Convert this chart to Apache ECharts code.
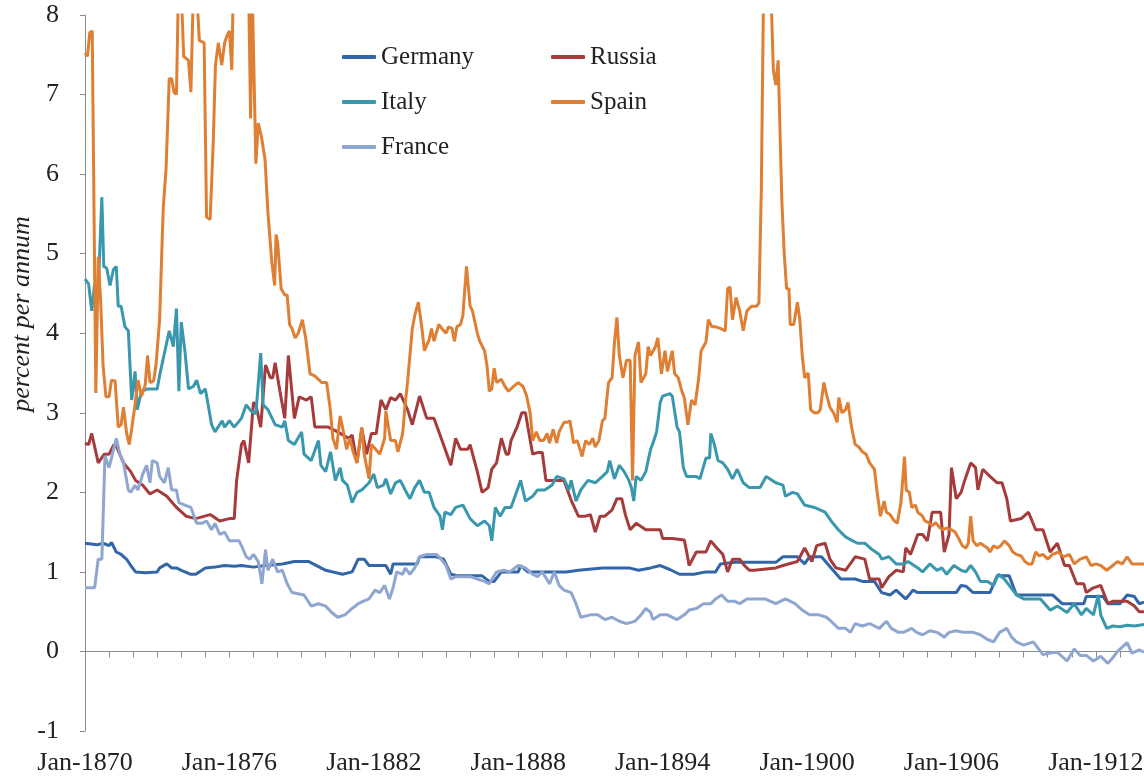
<!DOCTYPE html>
<html>
<head>
<meta charset="utf-8">
<script src="https://cdn.jsdelivr.net/npm/echarts@6/dist/echarts.min.js"></script>
<style>
  html, body { margin: 0; padding: 0; background: #fff; }
  #chart { width: 1144px; height: 778px; }
</style>
</head>
<body>
<div id="chart"></div>
<script>
// yields, percent per annum, [year, value]
const germany = [[1870,1.36],[1870.25,1.35],[1870.5,1.34],[1870.75,1.36],[1871,1.33],[1871.1,1.37],[1871.3,1.25],[1871.5,1.22],[1871.75,1.15],[1871.9,1.08],[1872.1,1.0],[1872.5,0.99],[1873,1.0],[1873.1,1.05],[1873.4,1.1],[1873.6,1.05],[1873.8,1.05],[1874,1.02],[1874.4,0.97],[1874.6,0.97],[1875,1.05],[1875.4,1.06],[1875.8,1.08],[1876.2,1.07],[1876.5,1.08],[1877,1.06],[1877.5,1.08],[1878.2,1.1],[1878.7,1.13],[1879.3,1.13],[1880,1.02],[1880.7,0.97],[1881.1,1.0],[1881.35,1.16],[1881.6,1.16],[1881.8,1.08],[1882.5,1.08],[1882.7,0.97],[1882.8,1.1],[1883.8,1.1],[1883.9,1.19],[1884.6,1.19],[1884.9,1.16],[1885.2,0.97],[1885.5,0.95],[1886.5,0.95],[1886.8,0.88],[1887,0.88],[1887.3,1.0],[1888,1.0],[1888.1,1.08],[1888.4,1.0],[1890,1.0],[1890.5,1.02],[1891.5,1.05],[1892.6,1.05],[1893,1.02],[1893.5,1.05],[1893.9,1.08],[1894.3,1.03],[1894.7,0.97],[1895.3,0.97],[1895.8,1.0],[1896.2,1.0],[1896.4,1.1],[1897,1.12],[1898,1.12],[1898.7,1.12],[1899,1.19],[1899.6,1.19],[1899.9,1.1],[1900.1,1.19],[1900.6,1.19],[1901,1.05],[1901.4,0.91],[1902,0.91],[1902.3,0.88],[1902.8,0.88],[1903.1,0.74],[1903.45,0.71],[1903.7,0.77],[1904.1,0.66],[1904.4,0.77],[1904.6,0.74],[1905.5,0.74],[1906.2,0.74],[1906.4,0.83],[1906.6,0.82],[1906.9,0.74],[1907.6,0.74],[1907.9,0.95],[1908.4,0.95],[1908.7,0.71],[1910.2,0.71],[1910.6,0.6],[1911.5,0.6],[1911.6,0.69],[1912.3,0.69],[1912.5,0.6],[1913,0.6],[1913.3,0.71],[1913.6,0.69],[1913.8,0.6],[1914,0.62]];

const russia = [[1870,2.62],[1870.15,2.6],[1870.28,2.74],[1870.55,2.37],[1870.8,2.48],[1871,2.48],[1871.2,2.6],[1871.3,2.58],[1871.6,2.37],[1871.9,2.26],[1872.1,2.15],[1872.4,2.09],[1872.7,1.98],[1873,2.03],[1873.4,1.95],[1873.8,1.81],[1874.2,1.7],[1874.6,1.67],[1875.2,1.72],[1875.6,1.64],[1876,1.67],[1876.2,1.67],[1876.3,2.15],[1876.5,2.6],[1876.6,2.65],[1876.8,2.37],[1877,3.13],[1877.1,3.1],[1877.3,2.82],[1877.5,3.6],[1877.7,3.44],[1877.8,3.44],[1877.9,3.63],[1878.1,3.27],[1878.3,2.93],[1878.45,3.72],[1878.7,2.93],[1878.9,3.2],[1879.2,3.16],[1879.4,3.2],[1879.55,2.82],[1879.9,2.82],[1880.1,2.82],[1880.5,2.76],[1880.95,2.68],[1881.1,2.72],[1881.3,2.37],[1881.5,2.8],[1881.7,2.48],[1881.9,2.74],[1882.1,2.74],[1882.3,3.16],[1882.5,3.04],[1882.7,3.19],[1882.9,3.16],[1883.1,3.24],[1883.4,3.04],[1883.6,2.85],[1883.9,3.21],[1884.2,2.93],[1884.5,2.93],[1884.8,2.68],[1885.2,2.34],[1885.4,2.68],[1885.6,2.54],[1885.9,2.54],[1886,2.6],[1886.3,2.26],[1886.5,2.0],[1886.75,2.06],[1886.9,2.29],[1887.1,2.37],[1887.3,2.68],[1887.5,2.48],[1887.6,2.48],[1887.7,2.65],[1887.95,2.82],[1888.15,3.0],[1888.3,3.0],[1888.4,2.82],[1888.6,2.48],[1888.8,2.5],[1889,2.5],[1889.15,2.15],[1889.9,2.15],[1890.2,1.9],[1890.5,1.7],[1890.8,1.7],[1891,1.72],[1891.2,1.5],[1891.4,1.7],[1891.6,1.7],[1891.9,1.78],[1892.1,1.92],[1892.3,1.92],[1892.45,1.72],[1892.65,1.53],[1892.9,1.61],[1893.3,1.53],[1893.9,1.53],[1894,1.42],[1894.4,1.42],[1894.9,1.4],[1895,1.25],[1895.1,1.08],[1895.4,1.25],[1895.8,1.25],[1896,1.39],[1896.25,1.3],[1896.5,1.22],[1896.7,1.0],[1896.9,1.16],[1897.2,1.16],[1897.4,1.08],[1897.6,1.02],[1897.8,1.02],[1898.7,1.05],[1899,1.08],[1899.6,1.13],[1899.9,1.3],[1900.2,1.13],[1900.4,1.33],[1900.75,1.36],[1900.95,1.16],[1901.2,1.05],[1901.6,1.02],[1902,1.19],[1902.4,1.16],[1902.6,0.91],[1903,0.91],[1903.1,0.8],[1903.4,0.94],[1903.7,1.02],[1904,1.0],[1904.1,1.3],[1904.3,1.22],[1904.6,1.47],[1904.8,1.47],[1905,1.39],[1905.2,1.75],[1905.55,1.75],[1905.7,1.25],[1905.9,1.47],[1906,2.31],[1906.2,1.92],[1906.4,2.0],[1906.55,2.15],[1906.8,2.37],[1907,2.31],[1907.1,2.03],[1907.3,2.29],[1907.6,2.2],[1907.9,2.12],[1908.1,2.12],[1908.3,1.92],[1908.45,1.64],[1908.9,1.67],[1909.2,1.75],[1909.5,1.53],[1909.8,1.53],[1910.1,1.25],[1910.4,1.36],[1910.7,1.08],[1910.9,1.08],[1911.2,0.85],[1911.5,0.85],[1911.6,0.74],[1911.9,0.8],[1912.2,0.83],[1912.5,0.6],[1912.7,0.63],[1913.3,0.63],[1913.6,0.57],[1913.8,0.5],[1914,0.5]];

const italy = [[1870,4.68],[1870.15,4.62],[1870.28,4.28],[1870.4,4.62],[1870.55,4.55],[1870.7,5.71],[1870.78,4.84],[1870.9,4.82],[1871.04,4.6],[1871.18,4.8],[1871.3,4.84],[1871.38,4.34],[1871.5,4.34],[1871.66,4.08],[1871.8,4.03],[1871.94,3.16],[1872.08,3.52],[1872.17,3.04],[1872.35,3.27],[1872.6,3.3],[1873,3.3],[1873.1,3.47],[1873.3,3.75],[1873.5,4.03],[1873.67,3.83],[1873.8,4.31],[1873.9,3.27],[1874,4.14],[1874.15,3.78],[1874.3,3.3],[1874.5,3.33],[1874.64,3.41],[1874.8,3.24],[1875,3.3],[1875.1,3.13],[1875.26,2.85],[1875.4,2.76],[1875.7,2.9],[1875.8,2.82],[1876,2.9],[1876.2,2.82],[1876.5,2.93],[1876.7,3.1],[1876.9,3.02],[1877.1,2.99],[1877.3,3.75],[1877.4,3.1],[1877.6,3.04],[1877.9,2.85],[1878.2,2.82],[1878.3,2.9],[1878.45,2.65],[1878.7,2.6],[1879,2.76],[1879.1,2.48],[1879.4,2.4],[1879.7,2.65],[1879.8,2.34],[1880,2.26],[1880.2,2.51],[1880.4,2.15],[1880.6,2.31],[1880.7,2.15],[1880.9,2.09],[1881.1,1.87],[1881.3,2.0],[1881.5,2.03],[1881.8,2.12],[1882,2.23],[1882.15,2.06],[1882.4,2.09],[1882.5,2.17],[1882.7,1.98],[1882.9,2.12],[1883.1,2.15],[1883.3,2.03],[1883.5,1.92],[1883.7,2.06],[1883.9,2.15],[1884.1,2.0],[1884.3,2.0],[1884.5,1.81],[1884.75,1.7],[1884.85,1.53],[1884.95,1.75],[1885.2,1.72],[1885.4,1.81],[1885.7,1.84],[1886,1.67],[1886.3,1.58],[1886.6,1.64],[1886.8,1.58],[1886.9,1.39],[1887.05,1.81],[1887.25,1.7],[1887.45,1.81],[1887.7,1.81],[1887.9,1.98],[1888.1,2.15],[1888.3,1.89],[1888.6,1.95],[1888.8,2.03],[1889.1,2.03],[1889.4,2.09],[1889.6,2.2],[1889.9,2.17],[1890.1,2.03],[1890.2,2.15],[1890.4,1.89],[1890.6,2.03],[1890.9,2.15],[1891.2,2.12],[1891.5,2.2],[1891.7,2.26],[1891.8,2.4],[1892,2.17],[1892.2,2.34],[1892.4,2.26],[1892.6,2.15],[1892.7,2.06],[1892.8,1.89],[1892.9,2.2],[1893.1,2.15],[1893.3,2.26],[1893.5,2.54],[1893.6,2.62],[1893.75,2.76],[1893.9,3.13],[1894,3.21],[1894.3,3.24],[1894.4,3.21],[1894.6,2.82],[1894.7,2.76],[1894.86,2.31],[1895,2.2],[1895.4,2.2],[1895.55,2.17],[1895.8,2.43],[1895.95,2.43],[1896,2.74],[1896.15,2.6],[1896.3,2.4],[1896.5,2.37],[1896.7,2.29],[1896.9,2.17],[1897.1,2.29],[1897.35,2.12],[1897.6,2.06],[1898.05,2.06],[1898.3,2.2],[1898.7,2.12],[1899,2.09],[1899.1,1.95],[1899.4,2.0],[1899.6,1.98],[1899.9,1.84],[1900.3,1.81],[1900.75,1.75],[1901,1.64],[1901.3,1.53],[1901.6,1.44],[1901.9,1.39],[1902.1,1.36],[1902.4,1.36],[1902.7,1.28],[1903,1.22],[1903.1,1.16],[1903.4,1.19],[1903.7,1.1],[1904,1.1],[1904.2,1.13],[1904.6,1.05],[1904.8,1.0],[1905.1,1.1],[1905.4,1.02],[1905.6,1.05],[1905.8,0.97],[1906.1,1.08],[1906.4,1.02],[1906.6,1.0],[1906.8,1.08],[1907,1.0],[1907.2,0.88],[1907.5,0.88],[1907.75,0.83],[1907.95,0.97],[1908.2,0.91],[1908.4,0.83],[1908.7,0.71],[1909,0.66],[1909.4,0.66],[1909.7,0.66],[1910.1,0.52],[1910.4,0.57],[1910.8,0.49],[1911.1,0.6],[1911.4,0.46],[1911.6,0.54],[1911.9,0.46],[1912.1,0.71],[1912.2,0.46],[1912.45,0.29],[1912.7,0.32],[1913,0.31],[1913.3,0.33],[1913.6,0.32],[1914,0.34]];

const spain = [[1870,7.52],[1870.1,7.48],[1870.2,7.78],[1870.3,7.8],[1870.45,3.25],[1870.55,4.96],[1870.65,4.4],[1870.75,3.6],[1870.87,3.2],[1871,3.2],[1871.1,3.41],[1871.25,3.4],[1871.38,2.82],[1871.5,2.85],[1871.6,3.07],[1871.73,2.74],[1871.84,2.6],[1871.94,2.8],[1872.08,3.1],[1872.2,3.41],[1872.35,3.21],[1872.5,3.35],[1872.6,3.72],[1872.7,3.38],[1872.85,3.4],[1872.95,3.6],[1873.1,4.17],[1873.25,5.57],[1873.37,6.08],[1873.5,7.2],[1873.6,7.2],[1873.7,7.03],[1873.8,7.0],[1873.88,8.3],[1874,8.3],[1874.1,7.48],[1874.3,7.43],[1874.4,7.03],[1874.5,8.3],[1874.64,8.3],[1874.75,7.68],[1874.95,7.65],[1875.05,5.46],[1875.2,5.43],[1875.33,6.42],[1875.42,7.37],[1875.54,7.65],[1875.68,7.37],[1875.8,7.65],[1875.9,7.74],[1876,7.8],[1876.1,7.31],[1876.16,8.3],[1876.4,9],[1876.6,9],[1876.8,8.3],[1876.88,6.7],[1876.95,8.3],[1877.02,8.3],[1877.1,6.13],[1877.2,6.64],[1877.33,6.47],[1877.48,6.19],[1877.6,5.52],[1877.76,4.9],[1877.88,4.6],[1877.94,5.24],[1878,5.15],[1878.15,4.56],[1878.3,4.48],[1878.4,4.48],[1878.5,4.11],[1878.6,4.06],[1878.73,3.94],[1878.86,4.0],[1879.03,4.17],[1879.17,3.94],[1879.35,3.49],[1879.56,3.46],[1879.83,3.38],[1880.04,3.38],[1880.18,3.07],[1880.3,2.68],[1880.45,2.54],[1880.6,2.96],[1880.7,2.82],[1880.87,2.54],[1881,2.68],[1881.15,2.5],[1881.3,2.37],[1881.5,2.82],[1881.6,2.48],[1881.8,2.17],[1881.9,2.6],[1882.05,2.55],[1882.25,2.48],[1882.45,2.68],[1882.5,3.02],[1882.7,2.65],[1882.9,2.65],[1883,2.51],[1883.2,2.74],[1883.3,3.1],[1883.4,3.38],[1883.6,4.06],[1883.7,4.22],[1883.85,4.39],[1884,4.06],[1884.1,3.78],[1884.3,3.92],[1884.4,4.06],[1884.5,3.9],[1884.7,4.11],[1884.85,4.05],[1885,4.0],[1885.1,4.08],[1885.25,4.06],[1885.35,3.9],[1885.45,4.08],[1885.6,4.11],[1885.7,4.22],[1885.85,4.84],[1886,4.34],[1886.1,4.28],[1886.3,4.0],[1886.4,3.9],[1886.6,3.78],[1886.7,3.6],[1886.8,3.27],[1886.9,3.3],[1887,3.56],[1887.1,3.38],[1887.3,3.42],[1887.45,3.33],[1887.6,3.27],[1887.8,3.33],[1888,3.38],[1888.2,3.33],[1888.35,3.21],[1888.5,2.99],[1888.6,2.65],[1888.75,2.76],[1888.9,2.65],[1889.05,2.65],[1889.2,2.74],[1889.3,2.62],[1889.45,2.79],[1889.6,2.62],[1889.7,2.76],[1889.9,2.88],[1890.05,2.88],[1890.15,2.9],[1890.3,2.62],[1890.45,2.65],[1890.6,2.51],[1890.65,2.45],[1890.8,2.65],[1890.95,2.6],[1891.1,2.68],[1891.2,2.57],[1891.35,2.65],[1891.5,2.9],[1891.6,2.93],[1891.75,3.38],[1891.9,3.44],[1892,3.89],[1892.1,4.2],[1892.2,3.72],[1892.35,3.44],[1892.5,3.66],[1892.65,3.66],[1892.75,2.15],[1892.85,3.72],[1893,3.89],[1893.1,3.38],[1893.3,3.49],[1893.4,3.83],[1893.5,3.72],[1893.7,3.83],[1893.8,3.94],[1893.95,3.49],[1894.1,3.78],[1894.2,3.52],[1894.4,3.78],[1894.5,3.49],[1894.65,3.44],[1894.8,3.27],[1894.9,3.19],[1895.05,2.85],[1895.2,3.16],[1895.35,3.1],[1895.5,3.44],[1895.6,3.78],[1895.8,3.89],[1895.9,4.17],[1896.05,4.08],[1896.2,4.08],[1896.4,4.06],[1896.6,4.03],[1896.7,4.56],[1896.8,4.58],[1896.9,4.17],[1897.05,4.45],[1897.2,4.28],[1897.35,4.03],[1897.5,4.28],[1897.7,4.34],[1897.9,4.34],[1898,4.38],[1898.1,5.8],[1898.2,8.5],[1898.35,9],[1898.5,8.3],[1898.6,7.31],[1898.7,7.12],[1898.8,7.43],[1898.88,7.43],[1898.95,5.69],[1899.05,5.01],[1899.15,4.56],[1899.25,4.56],[1899.3,4.11],[1899.45,4.11],[1899.6,4.39],[1899.7,4.17],[1899.8,3.72],[1899.9,3.44],[1900.05,3.5],[1900.15,3.04],[1900.3,3.0],[1900.45,3.0],[1900.55,3.04],[1900.7,3.38],[1900.8,3.24],[1900.95,3.07],[1901.1,3.0],[1901.25,2.88],[1901.32,3.19],[1901.45,3.0],[1901.6,3.04],[1901.7,3.13],[1901.85,2.82],[1902,2.6],[1902.15,2.57],[1902.3,2.51],[1902.45,2.48],[1902.6,2.37],[1902.8,2.29],[1902.9,2.03],[1903.05,1.7],[1903.2,1.89],[1903.3,1.75],[1903.45,1.72],[1903.6,1.65],[1903.75,1.61],[1903.9,1.87],[1904.05,2.45],[1904.12,2.03],[1904.25,2.0],[1904.35,1.81],[1904.5,1.84],[1904.6,1.75],[1904.8,1.7],[1904.9,1.64],[1905.05,1.62],[1905.2,1.58],[1905.35,1.62],[1905.5,1.56],[1905.65,1.53],[1905.8,1.55],[1906,1.53],[1906.15,1.5],[1906.3,1.42],[1906.45,1.33],[1906.6,1.3],[1906.7,1.36],[1906.8,1.7],[1906.9,1.39],[1907.05,1.33],[1907.2,1.36],[1907.35,1.33],[1907.5,1.3],[1907.6,1.25],[1907.75,1.33],[1907.9,1.3],[1908.05,1.33],[1908.2,1.39],[1908.4,1.33],[1908.55,1.25],[1908.7,1.22],[1908.9,1.2],[1909.05,1.13],[1909.2,1.1],[1909.35,1.1],[1909.5,1.25],[1909.65,1.2],[1909.8,1.22],[1910,1.16],[1910.2,1.22],[1910.45,1.25],[1910.65,1.19],[1910.9,1.22],[1911.1,1.1],[1911.35,1.16],[1911.6,1.19],[1911.8,1.08],[1912,1.1],[1912.2,1.08],[1912.45,1.02],[1912.7,1.08],[1912.9,1.13],[1913.1,1.1],[1913.3,1.19],[1913.5,1.1],[1913.7,1.1],[1914,1.1]];

const france = [[1870,0.8],[1870.4,0.8],[1870.55,1.16],[1870.7,1.16],[1870.83,2.46],[1871,2.31],[1871.1,2.43],[1871.3,2.68],[1871.45,2.48],[1871.6,2.37],[1871.8,2.03],[1871.9,2.0],[1872.08,2.09],[1872.2,2.03],[1872.4,2.23],[1872.56,2.34],[1872.7,2.12],[1872.8,2.4],[1873,2.37],[1873.1,2.2],[1873.3,2.12],[1873.46,2.31],[1873.6,2.03],[1873.8,2.03],[1873.9,1.87],[1874.15,1.84],[1874.4,1.81],[1874.64,1.61],[1874.85,1.61],[1875.05,1.64],[1875.26,1.53],[1875.4,1.61],[1875.6,1.47],[1875.8,1.5],[1876,1.39],[1876.4,1.39],[1876.5,1.33],[1876.7,1.19],[1876.85,1.16],[1877,1.22],[1877.2,1.13],[1877.35,0.85],[1877.5,1.28],[1877.6,1.02],[1877.8,1.16],[1878,1.0],[1878.2,1.02],[1878.4,0.85],[1878.6,0.74],[1879.1,0.71],[1879.4,0.57],[1879.7,0.6],[1880,0.57],[1880.25,0.49],[1880.5,0.43],[1880.8,0.46],[1881.1,0.54],[1881.35,0.6],[1881.55,0.63],[1881.8,0.66],[1882.05,0.77],[1882.25,0.74],[1882.45,0.83],[1882.65,0.66],[1882.8,0.8],[1882.95,1.0],[1883.2,0.97],[1883.3,1.05],[1883.5,0.97],[1883.7,1.05],[1883.9,1.19],[1884.2,1.22],[1884.6,1.22],[1884.8,1.16],[1885,1.08],[1885.2,0.91],[1885.4,0.94],[1886,0.94],[1886.3,0.91],[1886.6,0.88],[1886.8,0.85],[1887.1,1.0],[1887.4,1.02],[1887.65,1.0],[1888,1.08],[1888.3,1.05],[1888.6,0.97],[1888.8,0.94],[1889,1.0],[1889.3,0.85],[1889.5,1.0],[1889.7,0.83],[1889.9,0.77],[1890.2,0.74],[1890.4,0.6],[1890.6,0.43],[1891,0.46],[1891.3,0.46],[1891.6,0.4],[1891.9,0.43],[1892.2,0.38],[1892.5,0.35],[1892.85,0.38],[1893.1,0.46],[1893.3,0.54],[1893.5,0.49],[1893.6,0.4],[1893.9,0.46],[1894.2,0.46],[1894.6,0.4],[1894.9,0.46],[1895.1,0.52],[1895.4,0.54],[1895.7,0.6],[1896,0.6],[1896.2,0.66],[1896.45,0.71],[1896.7,0.63],[1897,0.63],[1897.2,0.6],[1897.5,0.66],[1898.25,0.66],[1898.7,0.6],[1899.1,0.66],[1899.5,0.6],[1899.8,0.52],[1900.1,0.46],[1900.5,0.46],[1900.8,0.43],[1901,0.38],[1901.3,0.29],[1901.6,0.29],[1901.8,0.24],[1902,0.35],[1902.3,0.32],[1902.6,0.35],[1902.8,0.32],[1903,0.29],[1903.3,0.38],[1903.5,0.29],[1903.8,0.24],[1904,0.24],[1904.35,0.29],[1904.55,0.24],[1904.8,0.21],[1905.1,0.26],[1905.4,0.24],[1905.7,0.18],[1905.9,0.24],[1906.2,0.26],[1906.5,0.24],[1906.9,0.24],[1907.2,0.21],[1907.5,0.15],[1907.75,0.12],[1908,0.24],[1908.3,0.29],[1908.5,0.18],[1908.7,0.12],[1909,0.08],[1909.4,0.12],[1909.8,-0.04],[1910.1,-0.02],[1910.4,-0.01],[1910.8,-0.12],[1911.1,0.03],[1911.35,-0.05],[1911.6,-0.05],[1911.9,-0.12],[1912.2,-0.06],[1912.5,-0.15],[1912.7,-0.08],[1912.9,0.0],[1913.3,0.11],[1913.5,-0.02],[1913.8,0.02],[1914,-0.01]];

const labelYears = [1870, 1876, 1882, 1888, 1894, 1900, 1906, 1912];
const yTicks = [-1, 0, 1, 2, 3, 4, 5, 6, 7, 8];

const font = '"Liberation Serif", "Times New Roman", serif';
const textColor = '#222';
const axisColor = '#8c8c8c';

const chart = echarts.init(document.getElementById('chart'));

function line(name, data, color) {
  return {
    name: name,
    type: 'line',
    data: data,
    xAxisIndex: 0,
    showSymbol: false,
    symbol: 'none',
    clip: true,
    color: color,
    lineStyle: { width: 3, color: color },
    emphasis: { disabled: true }
  };
}

const legendBase = {
  orient: 'vertical',
  top: 37,
  itemWidth: 34,
  itemHeight: 4,
  itemGap: 15,
  icon: 'roundRect',
  selectedMode: false,
  textStyle: { fontFamily: font, fontSize: 25, color: textColor, lineHeight: 30 }
};

chart.setOption({
  animation: false,
  backgroundColor: '#fff',
  grid: { left: 85, right: 0, top: 15, bottom: 47, containLabel: false, outerBoundsMode: 'none' },
  legend: [
    Object.assign({}, legendBase, { left: 337, data: ['Germany', 'Italy', 'France'] }),
    Object.assign({}, legendBase, { left: 546, data: ['Russia', 'Spain'] })
  ],
  xAxis: [{
    // axis line at zero with yearly ticks
    type: 'value',
    min: 1870,
    max: 1914,
    interval: 1,
    splitLine: { show: false },
    axisLine: { onZero: true, lineStyle: { color: axisColor, width: 1 } },
    axisTick: { show: true, length: 6, lineStyle: { color: axisColor } },
    axisLabel: { show: false }
  }, {
    // labels along the bottom, every six years
    type: 'value',
    position: 'bottom',
    min: 1870,
    max: 1914,
    interval: 6,
    splitLine: { show: false },
    axisLine: { show: false, onZero: false },
    axisTick: { show: false },
    axisLabel: {
      margin: 19,
      fontFamily: font,
      fontSize: 26,
      color: textColor,
      hideOverlap: false,
      showMinLabel: true,
      showMaxLabel: true,
      formatter: function (v) { return labelYears.indexOf(Math.round(v)) >= 0 ? 'Jan-' + Math.round(v) : ''; }
    }
  }],
  yAxis: {
    type: 'value',
    min: yTicks[0],
    max: yTicks[yTicks.length - 1],
    interval: 1,
    splitLine: { show: false },
    axisLine: { show: true, onZero: false, lineStyle: { color: axisColor, width: 1 } },
    axisTick: { show: true, length: 5, lineStyle: { color: axisColor } },
    axisLabel: { margin: 26, fontFamily: font, fontSize: 26, color: textColor }
  },
  graphic: [{
    type: 'text',
    x: 22,
    y: 314,
    rotation: Math.PI / 2,
    style: {
      text: 'percent per annum',
      fontFamily: font,
      fontSize: 26,
      fontStyle: 'italic',
      fill: textColor,
      align: 'center',
      verticalAlign: 'middle',
      textAlign: 'center',
      textVerticalAlign: 'middle'
    }
  }],
  series: [
    line('Germany', germany, '#3266a8'),
    line('Russia', russia, '#a63b3b'),
    line('Italy', italy, '#3a98ae'),
    line('Spain', spain, '#de7f34'),
    line('France', france, '#8ea6d0')
  ]
});
</script>
</body>
</html>
